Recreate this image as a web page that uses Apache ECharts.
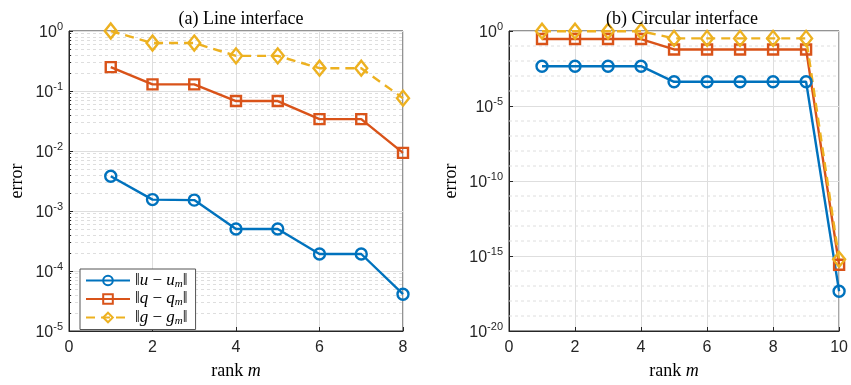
<!DOCTYPE html>
<html><head><meta charset="utf-8">
<script src="https://cdn.jsdelivr.net/npm/echarts@6/dist/echarts.min.js"></script>
<style>html,body{margin:0;padding:0;background:#fff}#c{width:851px;height:385px}</style>
</head><body><div id="c"></div>
<script>
// ---- data ----
const rankA = [1, 2, 3, 4, 5, 6, 7, 8];
const uA = [0.0038, 0.00155, 0.00152, 0.0005, 0.0005, 0.000192, 0.000192, 0.000041];
const qA = [0.25, 0.129, 0.129, 0.068, 0.068, 0.034, 0.034, 0.0093];
const gA = [1.0, 0.63, 0.63, 0.385, 0.385, 0.24, 0.24, 0.076];

const rankB = [1, 2, 3, 4, 5, 6, 7, 8, 9, 10];
const uB = [0.0045, 0.0045, 0.0045, 0.0045, 0.00041, 0.00041, 0.00041, 0.00041, 0.00041, 4.5e-18];
const qB = [0.29, 0.29, 0.29, 0.29, 0.059, 0.059, 0.059, 0.059, 0.059, 2.6e-16];
const gB = [0.97, 0.97, 0.97, 0.97, 0.32, 0.32, 0.32, 0.32, 0.32, 6e-16];

const seriesNames = ['u', 'q', 'g'];
const titles = ['(a) Line interface', '(b) Circular interface'];

// ---- style ----
const BLUE = '#0072BD', RED = '#D95319', YEL = '#EDB120';
const AX = '#262626', GRID = '#dedede';
const SERIF = '"Liberation Serif","DejaVu Serif",serif';
const SANS = '"Liberation Sans","DejaVu Sans",sans-serif';

function zip(xs, ys) { return xs.map((x, i) => [x, ys[i]]); }

const supRich = {
  b: { fontSize: 16, fontFamily: SANS, color: AX, lineHeight: 20, verticalAlign: 'bottom' },
  s: { fontSize: 11, fontFamily: SANS, color: AX, lineHeight: 20, verticalAlign: 'top' }
};
const expFmt = v => '{b|10}{s|' + Math.round(Math.log10(v)) + '}';

const mathRich = {
  n: { fontFamily: SERIF, fontSize: 17, color: '#000' },
  i: { fontFamily: SERIF, fontSize: 17, fontStyle: 'italic', color: '#000' },
  sub: { fontFamily: SERIF, fontSize: 11, fontStyle: 'italic', color: '#000', verticalAlign: 'bottom', padding: [7, 0, 0, 0] }
};
const legendLabel = {
  u: '{n|‖}{i|u}{n| − }{i|u}{sub|m}{n|‖}',
  q: '{n|‖}{i|q}{n| − }{i|q}{sub|m}{n|‖}',
  g: '{n|‖}{i|g}{n| − }{i|g}{sub|m}{n|‖}'
};

// right panel: dotted gridline at every decade between the 5-decade majors
const decadesB = [];
for (let e = -19; e < 0; e++) if (e % 5 !== 0) decadesB.push(Math.pow(10, e));

function lineSeries(name, xs, ys, color, sym, size, dashed, idx) {
  return {
    type: 'line', name: name, xAxisIndex: idx, yAxisIndex: idx,
    data: zip(xs, ys), clip: false,
    symbol: sym, symbolSize: size, showSymbol: true,
    lineStyle: { color: color, width: 2.4, type: dashed ? [9, 6] : 'solid' },
    itemStyle: { color: 'rgba(255,255,255,0)', borderColor: color, borderWidth: 2.4 },
    emphasis: { disabled: true }, z: 3, animation: false
  };
}
function decadeLines(idx, xmax, vals) {
  const d = [];
  vals.forEach(v => { d.push([0, v]); d.push([xmax, v]); d.push('-'); });
  return {
    type: 'line', name: '_grid' + idx, xAxisIndex: idx, yAxisIndex: idx, data: d,
    silent: true, z: 1, symbol: 'none', connectNulls: false,
    lineStyle: { color: GRID, width: 1, type: [3, 3] }, emphasis: { disabled: true }, animation: false
  };
}

const axisCommon = {
  axisLine: { show: true, lineStyle: { color: AX, width: 1 } },
  axisTick: { show: true, inside: true, length: 4, lineStyle: { color: AX } },
};
const nameStyle = { fontFamily: SERIF, fontSize: 18, color: '#000',
  rich: { i: { fontFamily: SERIF, fontSize: 18, fontStyle: 'italic', color: '#000' } } };
const titleStyle = { fontFamily: SERIF, fontSize: 18, fontWeight: 'normal', color: '#000' };

function xAx(idx, max) {
  return Object.assign({}, axisCommon, {
    type: 'value', gridIndex: idx, min: 0, max: max, interval: 2,
    name: 'rank {i|m}', nameLocation: 'middle', nameGap: 31, nameTextStyle: nameStyle,
    axisLabel: { fontFamily: SANS, fontSize: 16, color: AX, margin: 9 },
    splitLine: { show: true, lineStyle: { color: GRID, width: 1 } }
  });
}
function yAx(idx, min, interval, gap, minor) {
  const o = Object.assign({}, axisCommon, {
    type: 'log', logBase: 10, gridIndex: idx, min: min, max: 1, interval: interval,
    name: 'error', nameLocation: 'middle', nameGap: gap, nameRotate: 90, nameTextStyle: nameStyle,
    axisLabel: { formatter: expFmt, rich: supRich, margin: 6 },
    splitLine: { show: true, lineStyle: { color: GRID, width: 1 } }
  });
  if (minor) {
    o.minorTick = { show: true, splitNumber: 9, length: 2, lineStyle: { color: AX } };
    o.minorSplitLine = { show: true, lineStyle: { color: GRID, width: 1, type: [3, 3] } };
  }
  return o;
}

const option = {
  animation: false,
  title: [
    { text: titles[0], left: 236, top: 5, textAlign: 'center', textStyle: titleStyle },
    { text: titles[1], left: 677, top: 5, textAlign: 'center', textStyle: titleStyle }
  ],
  grid: [
    { left: 69, top: 31, width: 334, height: 309, show: true, borderColor: AX, borderWidth: 1, backgroundColor: 'transparent' },
    { left: 509, top: 31, width: 335, height: 309, show: true, borderColor: AX, borderWidth: 1, backgroundColor: 'transparent' }
  ],
  legend: {
    left: 80, top: 269, orient: 'vertical', itemGap: 1, itemWidth: 44, itemHeight: 12,
    padding: [3, 8, 3, 5], backgroundColor: '#fff', borderColor: '#555', borderWidth: 1,
    data: seriesNames, selectedMode: false,
    formatter: n => legendLabel[n],
    textStyle: { rich: mathRich, fontFamily: SERIF, fontSize: 17 }
  },
  xAxis: [xAx(0, 8), xAx(1, 10)],
  yAxis: [yAx(0, 1e-5, 1, 43, true), yAx(1, 1e-20, 5, 49, false)],
  series: [
    decadeLines(1, 10, decadesB),
    lineSeries('u', rankA, uA, BLUE, 'circle', 11, false, 0),
    lineSeries('q', rankA, qA, RED, 'rect', 10, false, 0),
    lineSeries('g', rankA, gA, YEL, 'diamond', [12, 15], true, 0),
    lineSeries('u', rankB, uB, BLUE, 'circle', 11, false, 1),
    lineSeries('q', rankB, qB, RED, 'rect', 10, false, 1),
    lineSeries('g', rankB, gB, YEL, 'diamond', [12, 15], true, 1)
  ]
};
const chart = echarts.init(document.getElementById('c'), null, { renderer: 'canvas' });
chart.setOption(option);
</script></body></html>
